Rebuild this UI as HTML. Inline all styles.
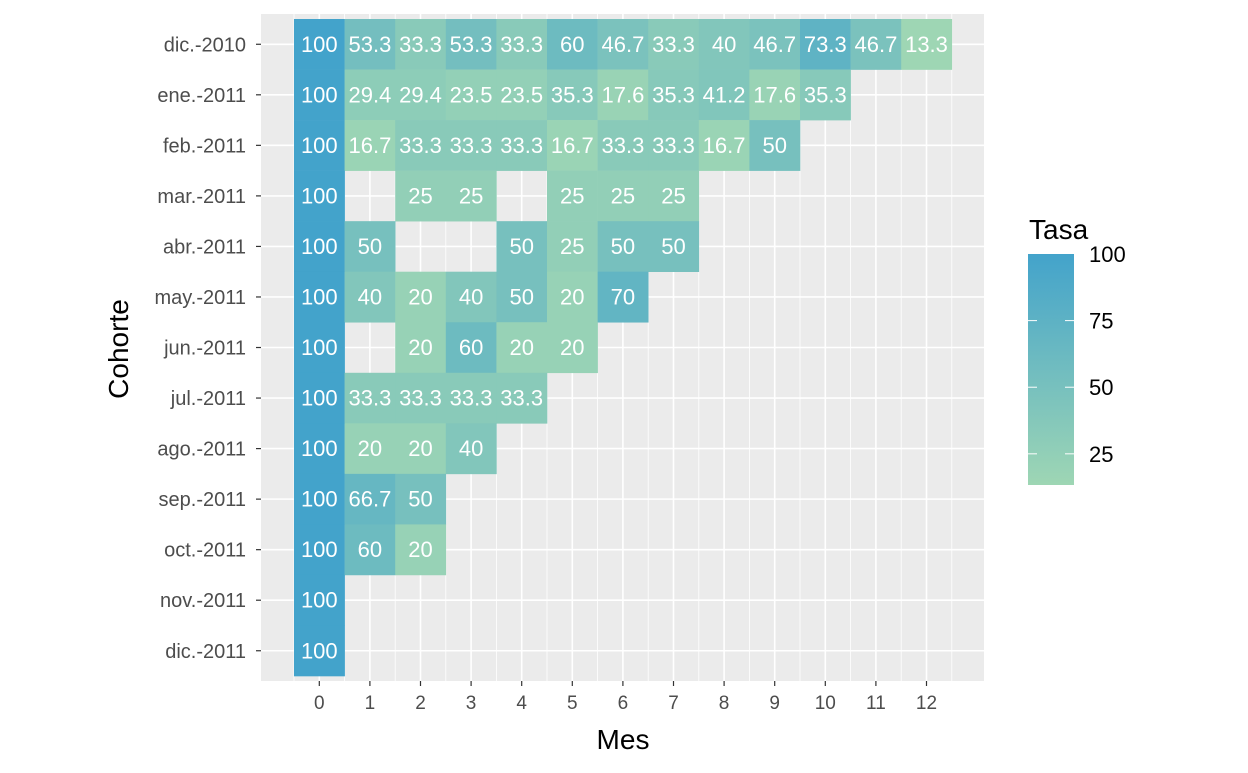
<!DOCTYPE html>
<html><head><meta charset="utf-8"><style>
body{margin:0;background:#fff;}
text{font-family:"Liberation Sans",sans-serif;}
</style></head><body>
<svg id="s" width="1248" height="768" xmlns="http://www.w3.org/2000/svg"></svg>
<script>
const rows=[["dic.-2010",[100,53.3,33.3,53.3,33.3,60,46.7,33.3,40,46.7,73.3,46.7,13.3]],
["ene.-2011",[100,29.4,29.4,23.5,23.5,35.3,17.6,35.3,41.2,17.6,35.3]],
["feb.-2011",[100,16.7,33.3,33.3,33.3,16.7,33.3,33.3,16.7,50]],
["mar.-2011",[100,null,25,25,null,25,25,25]],
["abr.-2011",[100,50,null,null,50,25,50,50]],
["may.-2011",[100,40,20,40,50,20,70]],
["jun.-2011",[100,null,20,60,20,20]],
["jul.-2011",[100,33.3,33.3,33.3,33.3]],
["ago.-2011",[100,20,20,40]],
["sep.-2011",[100,66.7,50]],
["oct.-2011",[100,60,20]],
["nov.-2011",[100]],["dic.-2011",[100]]];
const L=[158,214,180],H=[67,163,203];
function col(v){const t=(v-13.3)/86.7;return "rgb("+L.map((l,i)=>Math.round(l+(H[i]-l)*t)).join(",")+")";}
const cw=50.6,rh=50.54,x0=294,y0=19;
let s='<rect x="261" y="14" width="723" height="667" fill="#ebebeb"/>';
for(let i=0;i<=13;i++){const x=x0+i*cw;s+=`<line x1="${x}" y1="14" x2="${x}" y2="681" stroke="#fff" stroke-width="0.8"/>`;}
for(let i=0;i<13;i++){const x=x0+cw/2+i*cw;s+=`<line x1="${x}" y1="14" x2="${x}" y2="681" stroke="#fff" stroke-width="1.6"/>`;
s+=`<line x1="${x}" y1="681" x2="${x}" y2="686" stroke="#333" stroke-width="1.2"/><text x="${x}" y="709" font-size="19" fill="#4d4d4d" text-anchor="middle">${i}</text>`;}
rows.forEach((r,j)=>{const y=y0+rh/2+j*rh;s+=`<line x1="261" y1="${y}" x2="984" y2="${y}" stroke="#fff" stroke-width="1.6"/><line x1="256" y1="${y}" x2="261" y2="${y}" stroke="#333" stroke-width="1.2"/><text x="246" y="${y+7}" font-size="20" fill="#4d4d4d" text-anchor="end">${r[0]}</text>`;});
rows.forEach((r,j)=>{r[1].forEach((v,i)=>{if(v==null)return;const x=x0+i*cw,y=y0+j*rh;
s+=`<rect x="${x}" y="${y}" width="${cw+0.3}" height="${rh+0.3}" fill="${col(v)}"/><text x="${x+cw/2}" y="${y+rh/2+7.5}" font-size="22" fill="#fff" text-anchor="middle">${v}</text>`;});});
s+=`<text x="623" y="749" font-size="28" text-anchor="middle">Mes</text><text transform="translate(128,349) rotate(-90)" font-size="28" text-anchor="middle">Cohorte</text>`;
s+=`<defs><linearGradient id="g" x1="0" y1="0" x2="0" y2="1"><stop offset="0" stop-color="${col(100)}"/><stop offset="1" stop-color="${col(13.3)}"/></linearGradient></defs>`;
s+=`<text x="1029" y="239" font-size="28">Tasa</text><rect x="1028" y="254" width="46" height="231" fill="url(#g)"/>`;
[[100,""],[75,1],[50,1],[25,1]].forEach(([v,tk])=>{const y=254+(100-v)*231/86.7;if(tk)s+=`<line x1="1028" y1="${y}" x2="1037" y2="${y}" stroke="#fff"/><line x1="1065" y1="${y}" x2="1074" y2="${y}" stroke="#fff"/>`;s+=`<text x="1089" y="${y+8}" font-size="22">${v}</text>`;});
document.getElementById('s').innerHTML=s;
</script>
</body></html>
